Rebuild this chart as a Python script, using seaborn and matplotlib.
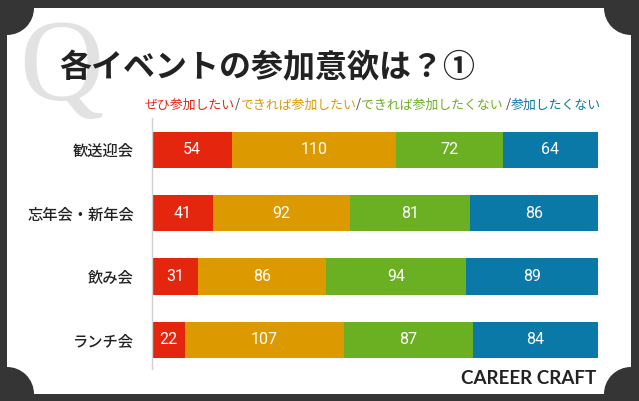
import numpy as np
import pandas as pd
import matplotlib
matplotlib.use('Agg')
import matplotlib.pyplot as plt
import seaborn as sns
from matplotlib.patches import Rectangle, Ellipse

# data
events = ['歓送迎会', '忘年会・新年会', '飲み会', 'ランチ会']
want_very = [54, 41, 31, 22]
want_if = [110, 92, 86, 107]
rather_not = [72, 81, 94, 87]
not_want = [64, 86, 89, 84]
answer_labels = ['ぜひ参加したい', 'できれば参加したい', 'できれば参加したくない', '参加したくない']
colors = ['#E5260E', '#DD9A00', '#6BB022', '#0A79A8']

sns.set_theme(style='white')
plt.rcParams['font.family'] = ['Noto Sans CJK JP', 'DejaVu Sans']

W, H = 639, 401
fig = plt.figure(figsize=(W / 100, H / 100), dpi=100)
fig.patch.set_facecolor('#353535')

def fx(px):
    return px / W

def fy(py):
    return 1 - py / H

# white card with notched corners
fig.patches.append(Rectangle((fx(7), fy(394)), fx(631) - fx(7), fy(8) - fy(394),
                             transform=fig.transFigure, facecolor='white',
                             edgecolor='none', zorder=-3))
r = 27
for cx, cy in [(7, 8), (631, 8), (7, 394), (631, 394)]:
    fig.patches.append(Ellipse((fx(cx), fy(cy)), 2 * r / W, 2 * r / H,
                               transform=fig.transFigure, facecolor='#353535',
                               edgecolor='none', zorder=-2))

# stacked bars: draw cumulative totals, longest first
series = [want_very, want_if, rather_not, not_want]
df = pd.DataFrame({'event': events})
cum = np.cumsum(np.array(series), axis=0)
for i in range(4):
    df[f'cum{i}'] = cum[i]

ax = fig.add_axes([fx(152), fy(369), fx(598) - fx(152), fy(118) - fy(369)])
ax.set_facecolor('none')
for i in reversed(range(4)):
    sns.barplot(data=df, x=f'cum{i}', y='event', order=events, color=colors[i],
                saturation=1, width=0.57, orient='h', errorbar=None,
                linewidth=0, ax=ax)

# value labels in the middle of each segment
for i in range(4):
    starts = cum[i] - np.array(series[i])
    for j, v in enumerate(series[i]):
        ax.text(starts[j] + v / 2, j, str(v), color='white', fontsize=11.5,
                family='Roboto', ha='center', va='center')

ax.set_xlim(0, 300)
ax.set_ylim(3.46, -0.5)
ax.set_xlabel('')
ax.set_ylabel('')
ax.set_xticks([])
ax.tick_params(axis='y', length=0, pad=13, labelsize=11, labelcolor='#222222')
for lab in ax.get_yticklabels():
    lab.set_fontweight('medium')
for s in ['top', 'right', 'bottom']:
    ax.spines[s].set_visible(False)
ax.spines['left'].set_color('#d0d0d0')
ax.spines['left'].set_linewidth(1)

# watermark Q and title
fig.text(fx(61), fy(72), 'Q', family='Liberation Serif', fontsize=84,
         color='#e2e2e2', ha='center', va='center', zorder=-1)
fig.text(fx(59), fy(68), '各イベントの参加意欲は？①', fontsize=23,
         fontweight='bold', color='#222222', ha='left', va='center')

# coloured legend line
renderer = fig.canvas.get_renderer()
pieces = [(answer_labels[0], colors[0]), ('/', '#444444'),
          (answer_labels[1], colors[1]), ('/', '#444444'),
          (answer_labels[2] + ' ', colors[2]), ('/', '#444444'),
          (answer_labels[3], colors[3])]
x = fx(145)
for txt, c in pieces:
    t = fig.text(x, fy(105), txt, fontsize=9.3, color=c, ha='left', va='center')
    bb = t.get_window_extent(renderer=renderer)
    x = bb.x1 / W

# logo
fig.text(fx(596), fy(378), 'CAREER CRAFT', family='Lato', fontsize=13.5,
         fontweight='bold', color='#222222', ha='right', va='center')

fig.savefig('out.png', dpi=100, facecolor=fig.get_facecolor())
